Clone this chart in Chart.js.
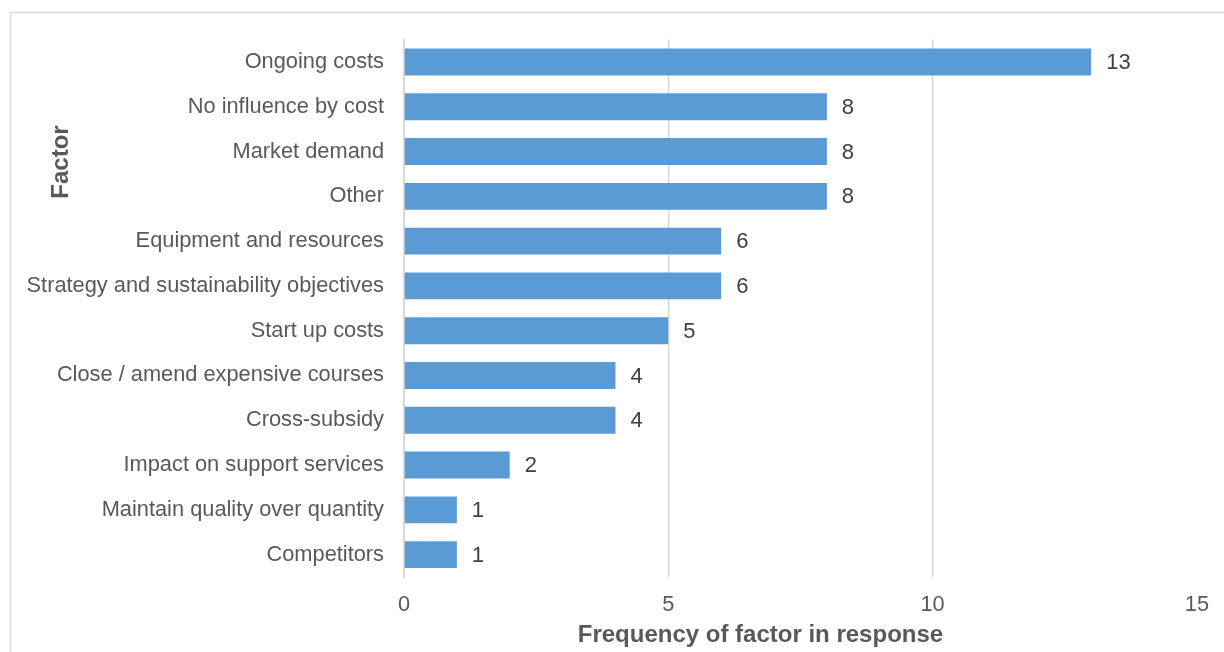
<!DOCTYPE html>
<html>
<head>
<meta charset="utf-8">
<script src="https://cdn.jsdelivr.net/npm/chart.js@4"></script>
<style>
html,body{margin:0;padding:0;background:#fff;}
#wrap{position:relative;width:1224px;height:652px;}
</style>
</head>
<body>
<div id="wrap"><canvas id="c" width="1224" height="652"></canvas></div>
<script>
const categories = [
  "Ongoing costs",
  "No influence by cost",
  "Market demand",
  "Other",
  "Equipment and resources",
  "Strategy and sustainability objectives",
  "Start up costs",
  "Close / amend expensive courses",
  "Cross-subsidy",
  "Impact on support services",
  "Maintain quality over quantity",
  "Competitors"
];
const frequencies = [13, 8, 8, 8, 6, 6, 5, 4, 4, 2, 1, 1];
const xTicks = [0, 5, 10, 15];
const xTitle = "Frequency of factor in response";
const yTitle = "Factor";

const FONT = "'Liberation Sans', Arial, sans-serif";

const frame = {
  id: 'frame',
  beforeDraw(chart) {
    const ctx = chart.ctx;
    ctx.save();
    ctx.strokeStyle = '#d9d9d9';
    ctx.lineWidth = 1.5;
    ctx.strokeRect(10.5, 12.5, 1400, 1000);
    ctx.restore();
  }
};

const valueLabels = {
  id: 'valueLabels',
  afterDatasetsDraw(chart) {
    const ctx = chart.ctx;
    const meta = chart.getDatasetMeta(0);
    ctx.save();
    ctx.fillStyle = '#404040';
    ctx.font = '22px ' + FONT;
    ctx.textAlign = 'left';
    ctx.textBaseline = 'middle';
    meta.data.forEach((bar, i) => {
      ctx.fillText(String(frequencies[i]), bar.x + 15, bar.y + 1);
    });
    ctx.restore();
  }
};

const axisTitles = {
  id: 'axisTitles',
  afterDraw(chart) {
    const ctx = chart.ctx;
    const xs = chart.scales.x;
    ctx.save();
    ctx.fillStyle = '#595959';
    ctx.font = 'bold 24px ' + FONT;
    ctx.textAlign = 'center';
    ctx.textBaseline = 'middle';
    ctx.fillText(xTitle, (xs.left + xs.right) / 2 - 40, 635);
    ctx.translate(61, 162);
    ctx.rotate(-Math.PI / 2);
    ctx.fillText(yTitle, 0, 0);
    ctx.restore();
  }
};

new Chart(document.getElementById('c'), {
  type: 'bar',
  data: {
    labels: categories,
    datasets: [{
      data: frequencies,
      backgroundColor: '#5B9BD5',
      borderWidth: 0,
      barPercentage: 0.6,
      categoryPercentage: 1.0
    }]
  },
  options: {
    indexAxis: 'y',
    responsive: false,
    animation: false,
    devicePixelRatio: 1,
    layout: { padding: { left: 0, top: 39.6, right: 26, bottom: 0 } },
    plugins: {
      legend: { display: false },
      tooltip: { enabled: false },
      title: { display: false }
    },
    scales: {
      x: {
        type: 'linear',
        min: 0,
        max: 15,
        afterBuildTicks(scale) { scale.ticks = xTicks.map(v => ({ value: v })); },
        afterFit(scale) { scale.height = 75; },
        grid: {
          color: ctx => (ctx.tick && ctx.tick.value === 15) ? 'rgba(0,0,0,0)' : '#d9d9d9',
          lineWidth: 1.5,
          drawTicks: false
        },
        border: { display: false },
        ticks: {
          color: '#595959',
          font: { family: FONT, size: 21.8 },
          padding: 15
        }
      },
      y: {
        afterFit(scale) { scale.width = 404; },
        grid: { display: false, drawTicks: false },
        border: { display: true, color: '#d9d9d9', width: 2 },
        ticks: {
          color: '#595959',
          font: { family: FONT, size: 21.8 },
          padding: 20
        }
      }
    }
  },
  plugins: [frame, valueLabels, axisTitles]
});
</script>
</body>
</html>
